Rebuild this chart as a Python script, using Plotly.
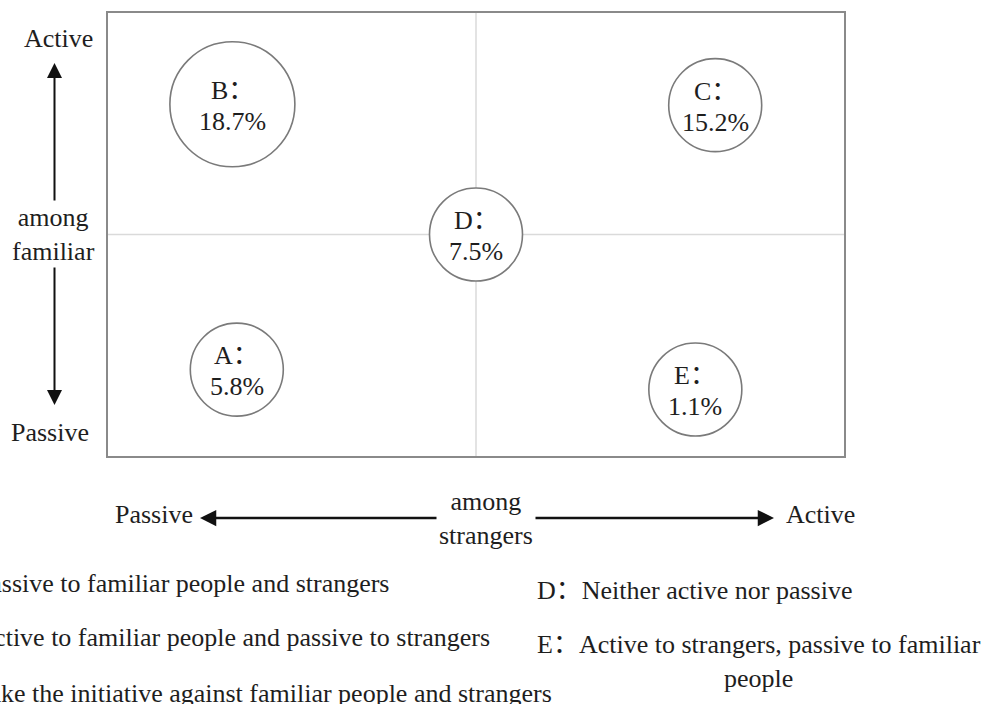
import plotly.graph_objects as go

# ---------------- data ----------------
categories = ["A", "B", "C", "D", "E"]
percent = [5.8, 18.7, 15.2, 7.5, 1.1]
strangers_score = [1.75, 1.69, 8.25, 5.0, 7.98]   # x: activity among strangers
familiar_score = [1.95, 7.94, 7.92, 5.0, 1.50]    # y: activity among familiar people
descriptions = [
    "Passive to familiar people and strangers",
    "Active to familiar people and passive to strangers",
    "Take the initiative against familiar people and strangers",
    "Neither active nor passive",
    "Active to strangers, passive to familiar<br>people",
]
axis_low, axis_high = "Passive", "Active"
x_axis_name = "among<br>strangers"
y_axis_name = "among<br>familiar"

# ---------------- style / layout ----------------
bubble_px = [93, 125, 93, 93, 93]
W, H = 987, 704
L, T, R, B = 108, 13, 844, 456
PW, PH = R - L, B - T
FONT = "'Liberation Serif', 'Times New Roman', 'Noto Sans CJK SC', serif"
TXT = "#1e1e1e"
FS = 26


def px(xp):
    return (xp - L) / PW


def py(yp):
    return (B - yp) / PH


def label(xp, yp, text, xanchor="center"):
    return dict(x=px(xp), y=py(yp), xref="paper", yref="paper", text=text,
                showarrow=False, xanchor=xanchor, yanchor="middle", align="center",
                font=dict(family=FONT, size=FS, color=TXT))


fig = go.Figure()
fig.add_trace(go.Scatter(
    x=strangers_score, y=familiar_score, mode="markers",
    marker=dict(size=bubble_px, color="white", opacity=1,
                line=dict(color="#7a7a7a", width=1.6)),
    hoverinfo="skip", showlegend=False,
))

ann = []
# labels inside the bubbles
for c, p, xv, yv in zip(categories, percent, strangers_score, familiar_score):
    ann.append(dict(x=xv, y=yv, xref="x", yref="y", text=f"{c}：", showarrow=False,
                    xanchor="center", yanchor="middle", yshift=14,
                    font=dict(family=FONT, size=FS, color=TXT)))
    ann.append(dict(x=xv, y=yv, xref="x", yref="y", text=f"{p}%", showarrow=False,
                    xanchor="center", yanchor="middle", yshift=-17,
                    font=dict(family=FONT, size=FS, color=TXT)))

# left (vertical) axis texts
ann.append(label(58, 38, axis_high))
ann.append(label(54, 234, y_axis_name))
ann.append(label(50, 432, axis_low))
# bottom (horizontal) axis texts
ann.append(label(154, 514, axis_low))
ann.append(label(486, 518, x_axis_name))
ann.append(label(820, 514, axis_high))

# arrows
arrow_style = dict(xref="paper", yref="paper", text="", showarrow=True,
                   arrowhead=2, arrowcolor="#111111")
ann.append(dict(x=px(54.5), y=py(63), ax=0, ay=139, arrowwidth=2, arrowsize=1.5, **arrow_style))
ann.append(dict(x=px(54.5), y=py(405), ax=0, ay=-139, arrowwidth=2, arrowsize=1.5, **arrow_style))
ann.append(dict(x=px(200), y=py(518), ax=238, ay=0, arrowwidth=2.6, arrowsize=1.25, **arrow_style))
ann.append(dict(x=px(774), y=py(518), ax=-240, ay=0, arrowwidth=2.6, arrowsize=1.25, **arrow_style))

# descriptions (legend text)
legend_pos = [(-71, 583), (-70, 637), (-70, 693), (535, 590), (535, 661)]
for c, d, (lx, ly) in zip(categories, descriptions, legend_pos):
    ann.append(label(lx, ly, f"{c}：{d}", xanchor="left"))

shapes = [
    dict(type="line", xref="x", yref="y", x0=5, x1=5, y0=0, y1=10,
         line=dict(color="#dadada", width=1.5), layer="below"),
    dict(type="line", xref="x", yref="y", x0=0, x1=10, y0=5, y1=5,
         line=dict(color="#dadada", width=1.5), layer="below"),
]

axis_common = dict(range=[0, 10], showgrid=False, zeroline=False, showticklabels=False,
                   ticks="", showline=True, mirror=True, linecolor="#8a8a8a",
                   linewidth=1.6, fixedrange=True)
fig.update_layout(
    width=W, height=H,
    margin=dict(l=L, r=W - R, t=T, b=H - B, pad=0),
    paper_bgcolor="white", plot_bgcolor="white",
    font=dict(family=FONT, size=FS, color=TXT),
    xaxis=axis_common, yaxis=axis_common,
    annotations=ann, shapes=shapes,
    showlegend=False,
)
fig.write_html("out.html", config={"displayModeBar": False},
               post_script="document.body.style.margin='0';")
